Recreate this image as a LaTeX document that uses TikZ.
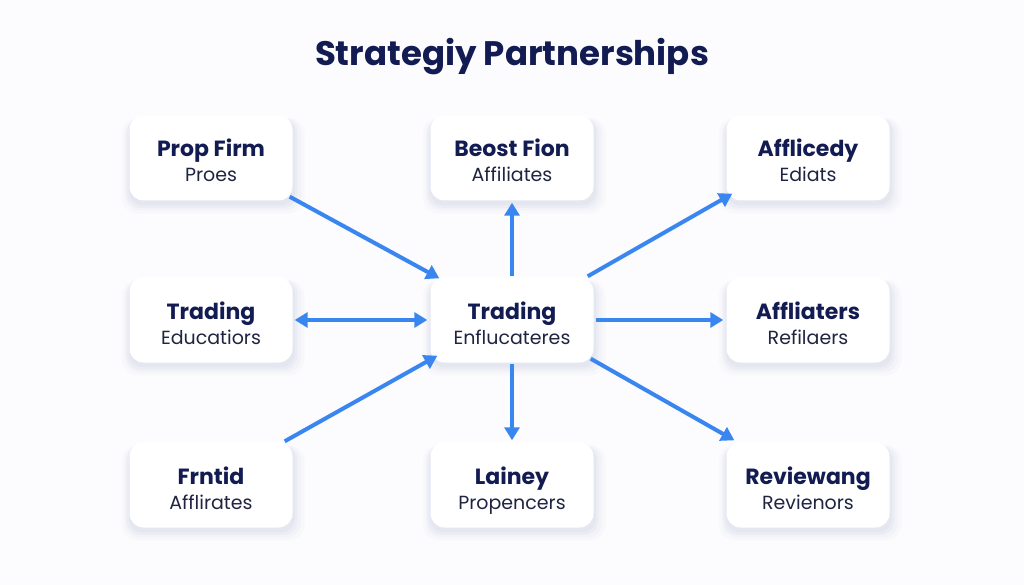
\documentclass[tikz,border=0pt]{standalone}
\usepackage{fontspec}
\setmainfont{Poppins}
\usetikzlibrary{arrows.meta,shadows}
\definecolor{navy}{HTML}{121C52}
\definecolor{subtxt}{HTML}{1F2541}
\definecolor{arrowblue}{HTML}{3A86F0}
\definecolor{shadowc}{HTML}{8E9CC4}
\definecolor{bgc}{HTML}{FCFCFE}
\tikzset{
  card/.style={rounded corners=14pt, fill=white, minimum width=163pt, minimum height=85pt,
    align=center, inner sep=0pt, text height=0pt, text depth=0pt,
    general shadow={fill=shadowc, opacity=0.035, shadow scale=1.12, shadow yshift=-7pt, shadow xshift=2pt},
    general shadow={fill=shadowc, opacity=0.05, shadow scale=1.08, shadow yshift=-6pt, shadow xshift=2pt},
    general shadow={fill=shadowc, opacity=0.06, shadow scale=1.05, shadow yshift=-5pt, shadow xshift=1pt},
    general shadow={fill=shadowc, opacity=0.08, shadow scale=1.02, shadow yshift=-4pt, shadow xshift=1pt}},
  link/.style={draw=arrowblue, line width=4pt, -{Triangle[length=13pt,width=15pt]}},
  dlink/.style={draw=arrowblue, line width=4pt, {Triangle[length=13pt,width=15pt]}-{Triangle[length=13pt,width=15pt]}},
  titletext/.style={font=\fontsize{34}{40}\selectfont\bfseries, text=navy, anchor=base},
}
\newcommand{\cardtext}[2]{%
  \makebox[0pt]{\raisebox{1pt}[0pt][0pt]{\fontsize{22}{26}\selectfont\bfseries\color{navy}#1}}%
  \makebox[0pt]{\raisebox{-24pt}[0pt][0pt]{\fontsize{19}{23}\selectfont\color{subtxt}#2}}}
\begin{document}
\begin{tikzpicture}[x=1pt,y=-1pt]
\fill[bgc] (0,0) rectangle (1024,585);
\useasboundingbox (0,0) rectangle (1024,585);
\node[titletext] (title) at (512,66) {Strategiy Partnerships};

\node[card] (tl) at (211,158) {\cardtext{Prop Firm}{Proes}};
\node[card] (tc) at (512,158) {\cardtext{Beost Fion}{Affiliates}};
\node[card] (tr) at (808,158) {\cardtext{Afflicedy}{Ediats}};
\node[card] (ml) at (211,320) {\cardtext{Trading}{Educatiors}};
\node[card] (c)  at (512,320) {\cardtext{Trading}{Enflucateres}};
\node[card] (mr) at (808,320) {\cardtext{Affliaters}{Refilaers}};
\node[card] (bl) at (211,485) {\cardtext{Frntid}{Afflirates}};
\node[card] (bc) at (512,485) {\cardtext{Lainey}{Propencers}};
\node[card] (br) at (808,485) {\cardtext{Reviewang}{Revienors}};

\draw[link] ([shift={(-3,-4)}]tl.south east) -- ([shift={(9,1)}]c.north west);
\draw[link, shorten <=1pt, shorten >=2pt] (c.north) -- (tc.south);
\draw[link] ([shift={(-6,-1)}]c.north east) -- ([shift={(6,-7)}]tr.south west);
\draw[dlink, shorten <=2pt, shorten >=3pt] (ml.east) -- (c.west);
\draw[link, shorten <=2pt, shorten >=3pt] (c.east) -- (mr.west);
\draw[link] ([shift={(-8,-1)}]bl.north east) -- ([shift={(7,-7)}]c.south west);
\draw[link, shorten <=1pt, shorten >=2pt] (c.south) -- (bc.north);
\draw[link] ([shift={(-3,-4)}]c.south east) -- ([shift={(8,-2)}]br.north west);
\end{tikzpicture}
\end{document}
